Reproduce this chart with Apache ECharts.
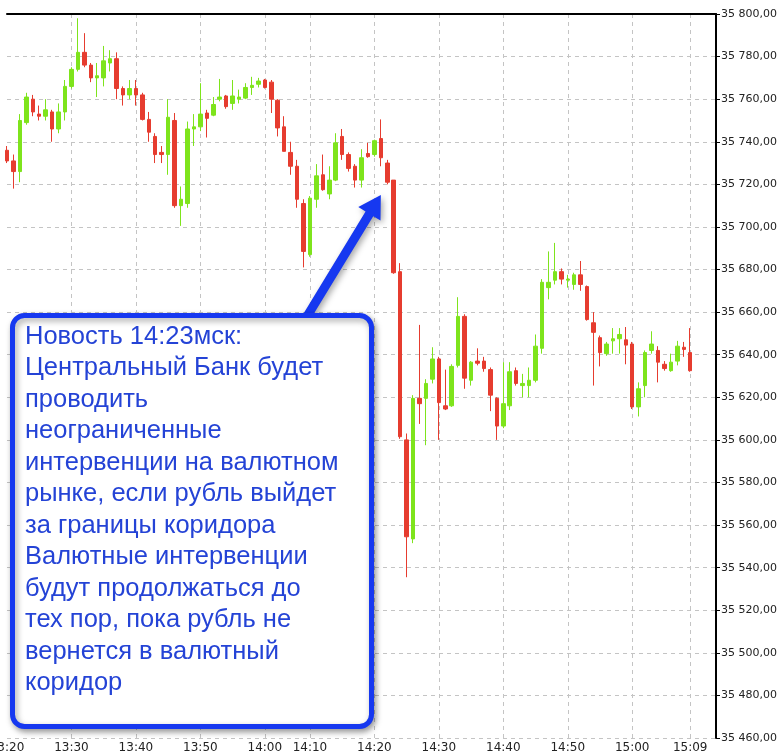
<!DOCTYPE html>
<html>
<head>
<meta charset="utf-8">
<title>USD/RUB 1m</title>
<script src="https://cdn.jsdelivr.net/npm/echarts@6/dist/echarts.min.js"></script>
<style>
  html, body { margin: 0; padding: 0; background: #fff; }
  #chart { width: 784px; height: 755px; }
</style>
</head>
<body>
<div id="chart"></div>
<script>
// минутные бары 13:20 - 15:09, после 14:00 нескольких минут нет
const skippedMinutes = ['14:03', '14:05', '14:09'];
const padMinutes = ['15:10', '15:11', '15:12', '15:13'];
const tickLabels = ['13:20', '13:30', '13:40', '13:50', '14:00', '14:10',
  '14:20', '14:30', '14:40', '14:50', '15:00', '15:09'];

const open = [
  35736, 35731, 35726, 35749, 35760, 35753, 35752, 35754, 35746, 35754,
  35766, 35774, 35782, 35776, 35770, 35770, 35777, 35779, 35765, 35762,
  35765, 35762, 35750.5, 35742.5, 35735, 35734, 35750, 35710, 35711, 35746,
  35747, 35753.5, 35752.5, 35760, 35761.5, 35758, 35760, 35760.5, 35765.5, 35767,
  35769, 35768, 35759.5, 35747, 35735, 35728.5, 35711, 35687, 35713, 35724.5,
  35715.5, 35722, 35742.5, 35734, 35728.5, 35722, 35734.5, 35734, 35741.5, 35730,
  35722, 35679, 35600, 35553.5, 35619.5, 35619.5, 35628.5, 35638, 35616, 35616,
  35635, 35658, 35628, 35637, 35637, 35633, 35619.5, 35606.5, 35616, 35632.5,
  35625.5, 35625.5, 35628, 35643, 35671.5, 35675, 35679, 35675, 35673, 35677.5,
  35672, 35655, 35648, 35640.5, 35646.5, 35647.5, 35647, 35645, 35615.5, 35625.5,
  35642, 35642, 35635.5, 35632.5, 35637, 35643.5, 35641
];
const high = [
  35738, 35734, 35753, 35763, 35762, 35757, 35760, 35755, 35758, 35769,
  35775, 35798, 35791, 35777, 35777, 35785, 35783, 35782, 35766, 35769,
  35769, 35763, 35754, 35744, 35738, 35760, 35753.5, 35719, 35749.5, 35753,
  35767.5, 35755, 35761, 35769.5, 35762, 35769, 35764.5, 35767.5, 35770.5, 35770,
  35769.5, 35769, 35760, 35752, 35740, 35731.5, 35713, 35714.5, 35729.5, 35734,
  35728.5, 35744, 35746, 35735, 35729.5, 35736.5, 35739.5, 35741, 35750.5, 35731.5,
  35722, 35683, 35603, 35621, 35654, 35628.5, 35643.5, 35639, 35633, 35635.5,
  35667, 35659, 35637, 35643, 35639, 35634, 35620, 35636.5, 35636.5, 35634,
  35631, 35634, 35649.5, 35675.5, 35688.5, 35692.5, 35680.5, 35677.5, 35678.5, 35684,
  35672.5, 35660, 35649, 35646, 35652.5, 35652.5, 35653, 35646, 35627, 35642,
  35651, 35644, 35637, 35640.5, 35646.5, 35646, 35652.5
];
const low = [
  35730, 35718, 35721, 35748, 35752, 35750, 35750, 35740, 35744, 35750,
  35765, 35773, 35775, 35768, 35761, 35766, 35773, 35760, 35757, 35760,
  35757, 35750, 35740, 35730, 35730, 35724.5, 35709, 35700.5, 35709, 35738,
  35745, 35742, 35752, 35759, 35755.5, 35755, 35758, 35760, 35762, 35765.5,
  35765, 35753.5, 35742.5, 35735.5, 35724.5, 35709, 35681, 35686, 35709, 35717,
  35713, 35721.5, 35731.5, 35726, 35718.5, 35718.5, 35732.5, 35733, 35728.5, 35720,
  35678, 35600.5, 35535.5, 35551.5, 35607.5, 35597.5, 35626.5, 35600, 35614, 35615.5,
  35634, 35624, 35625.5, 35635, 35632, 35613.5, 35600, 35605.5, 35614, 35625.5,
  35620, 35620, 35627, 35640.5, 35666, 35673, 35673, 35671.5, 35670.5, 35670,
  35656, 35625.5, 35634.5, 35639.5, 35640.5, 35640.5, 35635.5, 35614.5, 35611, 35620,
  35640.5, 35627, 35632.5, 35632, 35635, 35639, 35632
];
const close = [
  35731, 35726, 35750, 35761, 35754, 35752, 35755, 35746, 35754, 35766,
  35774, 35782, 35776, 35770, 35771, 35778, 35779, 35765, 35762, 35765,
  35762, 35750.5, 35744.5, 35734, 35734, 35751.5, 35710, 35713, 35746, 35747,
  35753, 35751, 35757.5, 35761, 35756.5, 35761.5, 35761, 35765.5, 35766.5, 35768.5,
  35765.5, 35760, 35746.5, 35735.5, 35728.5, 35713, 35688.5, 35713.5, 35724, 35717.5,
  35722, 35739.5, 35734, 35727.5, 35722, 35732.5, 35733, 35740.5, 35732.5, 35721,
  35678.5, 35601.5, 35554.5, 35619.5, 35617, 35626.5, 35638, 35617.5, 35614.5, 35634.5,
  35658, 35629, 35636.5, 35636, 35633.5, 35621, 35606.5, 35617, 35632, 35626.5,
  35626.5, 35628, 35644, 35674, 35674, 35679, 35675.5, 35675.5, 35677.5, 35673,
  35656.5, 35650.5, 35641, 35645, 35647.5, 35649.5, 35644.5, 35615.5, 35624, 35641,
  35645, 35636.5, 35633.5, 35636.5, 35644, 35642.5, 35632.5
];

const noteLines = [
  'Новость 14:23мск:',
  'Центральный Банк будет',
  'проводить',
  'неограниченные',
  'интервенции на валютном',
  'рынке, если рубль выйдет',
  'за границы коридора',
  'Валютные интервенции',
  'будут продолжаться до',
  'тех пор, пока рубль не',
  'вернется в валютный',
  'коридор'
];

// ось времени
const times = [];
for (let m = 13 * 60 + 20; m <= 15 * 60 + 9; m++) {
  const t = Math.floor(m / 60) + ':' + String(m % 60).padStart(2, '0');
  if (!skippedMinutes.includes(t)) times.push(t);
}
const categories = times.concat(padMinutes);

const candles = open.map((o, i) => [o, close[i], low[i], high[i]]);

const fmtPrice = v => {
  const parts = v.toFixed(2).split('.');
  return parts[0].replace(/\B(?=(\d{3})+(?!\d))/g, ' ') + ',' + parts[1];
};

const isTick = (idx, val) => tickLabels.includes(val);

const chart = echarts.init(document.getElementById('chart'));

const option = {
  animation: false,
  backgroundColor: '#fff',
  grid: {
    left: 7,
    right: 68,
    top: 14,
    bottom: 17,
    containLabel: false,
    outerBoundsMode: 'none'
  },
  xAxis: [
    {
      type: 'category',
      data: categories,
      boundaryGap: false,
      axisLine: { show: false },
      axisTick: { show: false },
      axisLabel: {
        interval: isTick,
        margin: 4,
        color: '#222',
        fontFamily: 'DejaVu Sans',
        fontSize: 12
      },
      splitLine: {
        show: true,
        interval: (idx, val) => val !== '13:20' && tickLabels.includes(val),
        lineStyle: { color: '#c4c4c4', type: [4, 4], width: 1 }
      }
    },
    {
      // верхняя рамка
      type: 'category',
      data: categories,
      position: 'top',
      boundaryGap: false,
      axisLine: { show: true, lineStyle: { color: '#000', width: 2 } },
      axisTick: { show: false },
      axisLabel: { show: false },
      splitLine: { show: false }
    }
  ],
  yAxis: {
    type: 'value',
    position: 'right',
    min: 35460,
    max: 35800,
    interval: 20,
    axisLine: { show: true, lineStyle: { color: '#000', width: 2 } },
    axisTick: { show: true, length: 4, lineStyle: { color: '#000' } },
    axisLabel: {
      formatter: fmtPrice,
      margin: 5,
      color: '#222',
      fontFamily: 'DejaVu Sans',
      fontSize: 11
    },
    splitLine: {
      show: true,
      lineStyle: { color: '#c4c4c4', type: [4, 4], width: 1 }
    }
  },
  series: [
    {
      type: 'candlestick',
      data: candles,
      xAxisIndex: 0,
      barWidth: 4,
      itemStyle: {
        color: '#7ee41c',
        color0: '#e63c2f',
        borderColor: '#7ee41c',
        borderColor0: '#e63c2f',
        borderWidth: 1
      }
    }
  ]
};

chart.setOption(option);

// выноска со стрелкой
const blue = '#1638f0';
const shadow = { shadowBlur: 6, shadowOffsetX: 2, shadowOffsetY: 3, shadowColor: 'rgba(0,0,0,0.35)' };
const tip = chart.convertToPixel({ xAxisIndex: 0, yAxisIndex: 0 }, [times[58], 35715]);
const tail = [306, 318];
const dx = tip[0] - tail[0], dy = tip[1] - tail[1];
const len = Math.sqrt(dx * dx + dy * dy);
const ux = dx / len, uy = dy / len;
const nx = -uy, ny = ux;
const shaftW = 9, headW = 13, headL = 22;
const base = [tip[0] - ux * headL, tip[1] - uy * headL];
const arrowPts = [
  [tail[0] + nx * shaftW / 2, tail[1] + ny * shaftW / 2],
  [base[0] + nx * shaftW / 2, base[1] + ny * shaftW / 2],
  [base[0] + nx * headW, base[1] + ny * headW],
  tip,
  [base[0] - nx * headW, base[1] - ny * headW],
  [base[0] - nx * shaftW / 2, base[1] - ny * shaftW / 2],
  [tail[0] - nx * shaftW / 2, tail[1] - ny * shaftW / 2]
];

chart.setOption({
  graphic: [
    {
      type: 'polygon',
      z: 10,
      shape: { points: arrowPts },
      style: Object.assign({ fill: blue, lineJoin: 'round' }, shadow)
    },
    {
      type: 'rect',
      z: 11,
      shape: { x: 12.5, y: 315.5, width: 359, height: 411, r: 12 },
      style: Object.assign({ fill: '#fff', stroke: blue, lineWidth: 5 }, shadow)
    },
    {
      type: 'text',
      z: 12,
      x: 25,
      y: 321,
      style: {
        text: noteLines.join('\n'),
        fill: '#2443d6',
        fontFamily: 'Liberation Sans',
        fontSize: 25.5,
        lineHeight: 31.5,
        verticalAlign: 'top',
        align: 'left'
      }
    }
  ]
});
</script>
</body>
</html>
